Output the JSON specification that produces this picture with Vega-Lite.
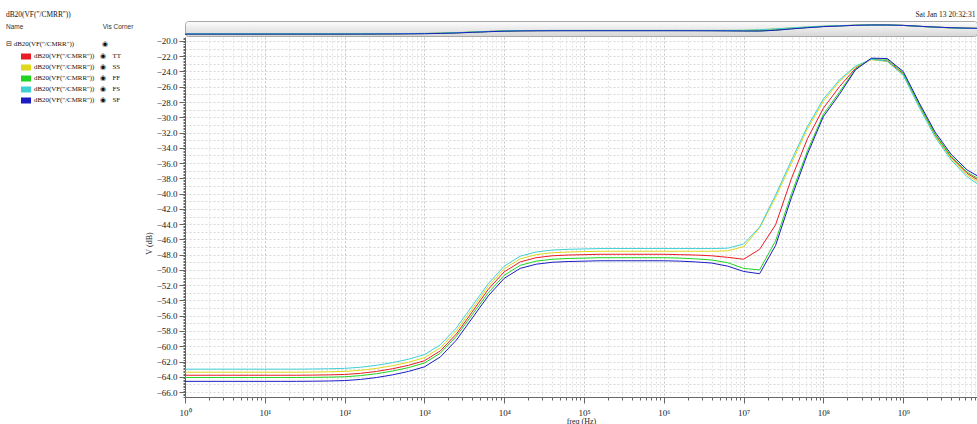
{
  "$schema": "https://vega.github.io/schema/vega-lite/v6.json",
  "background": "white",
  "padding": {"left": 5, "top": 10, "right": 0, "bottom": 0},
  "title": {"text": "Sat Jan 13 20:32:31", "anchor": "end", "frame": "bounds", "offset": -8, "dx": -2, "font": "Liberation Serif", "fontSize": 7.6, "fontWeight": "normal", "color": "#222"},
  "spacing": 1,
  "bounds": "flush",
  "resolve": {"scale": {"color": "independent"}, "legend": {"color": "independent"}},
  "datasets": {
    "cmrr": [
      {"f": 1, "TT": -63.8, "SS": -63.4, "FF": -64.1, "FS": -63.0, "SF": -64.6},
      {"f": 1.585, "TT": -63.8, "SS": -63.4, "FF": -64.1, "FS": -63.0, "SF": -64.6},
      {"f": 2.512, "TT": -63.8, "SS": -63.4, "FF": -64.1, "FS": -63.0, "SF": -64.6},
      {"f": 3.981, "TT": -63.8, "SS": -63.4, "FF": -64.1, "FS": -63.0, "SF": -64.6},
      {"f": 6.31, "TT": -63.8, "SS": -63.4, "FF": -64.1, "FS": -63.0, "SF": -64.6},
      {"f": 10, "TT": -63.8, "SS": -63.4, "FF": -64.1, "FS": -63.0, "SF": -64.6},
      {"f": 15.85, "TT": -63.8, "SS": -63.4, "FF": -64.1, "FS": -63.0, "SF": -64.6},
      {"f": 25.12, "TT": -63.8, "SS": -63.4, "FF": -64.1, "FS": -63.0, "SF": -64.6},
      {"f": 39.81, "TT": -63.78, "SS": -63.38, "FF": -64.08, "FS": -62.98, "SF": -64.58},
      {"f": 63.1, "TT": -63.75, "SS": -63.35, "FF": -64.05, "FS": -62.95, "SF": -64.55},
      {"f": 100, "TT": -63.7, "SS": -63.3, "FF": -64.0, "FS": -62.9, "SF": -64.5},
      {"f": 158.5, "TT": -63.55, "SS": -63.15, "FF": -63.85, "FS": -62.75, "SF": -64.35},
      {"f": 251.2, "TT": -63.3, "SS": -62.9, "FF": -63.6, "FS": -62.5, "SF": -64.1},
      {"f": 398.1, "TT": -62.95, "SS": -62.55, "FF": -63.25, "FS": -62.15, "SF": -63.75},
      {"f": 631, "TT": -62.5, "SS": -62.1, "FF": -62.8, "FS": -61.7, "SF": -63.3},
      {"f": 1000, "TT": -61.9, "SS": -61.5, "FF": -62.2, "FS": -61.1, "SF": -62.7},
      {"f": 1585, "TT": -60.6, "SS": -60.2, "FF": -60.9, "FS": -59.8, "SF": -61.4},
      {"f": 2512, "TT": -58.4, "SS": -58.0, "FF": -58.7, "FS": -57.6, "SF": -59.2},
      {"f": 3981, "TT": -55.48, "SS": -55.08, "FF": -55.85, "FS": -54.7, "SF": -56.3},
      {"f": 6310, "TT": -52.55, "SS": -52.15, "FF": -53.0, "FS": -51.8, "SF": -53.4},
      {"f": 10000, "TT": -50.25, "SS": -49.85, "FF": -50.7, "FS": -49.5, "SF": -51.1},
      {"f": 15850, "TT": -48.95, "SS": -48.55, "FF": -49.4, "FS": -48.2, "SF": -49.8},
      {"f": 25120, "TT": -48.4, "SS": -48.0, "FF": -48.85, "FS": -47.65, "SF": -49.25},
      {"f": 39810, "TT": -48.15, "SS": -47.75, "FF": -48.6, "FS": -47.4, "SF": -49.0},
      {"f": 63100, "TT": -48.05, "SS": -47.65, "FF": -48.5, "FS": -47.3, "SF": -48.9},
      {"f": 100000, "TT": -48.0, "SS": -47.6, "FF": -48.45, "FS": -47.25, "SF": -48.85},
      {"f": 158500, "TT": -47.95, "SS": -47.55, "FF": -48.4, "FS": -47.2, "SF": -48.8},
      {"f": 251200, "TT": -47.95, "SS": -47.55, "FF": -48.4, "FS": -47.2, "SF": -48.8},
      {"f": 398100, "TT": -47.95, "SS": -47.55, "FF": -48.4, "FS": -47.2, "SF": -48.8},
      {"f": 631000, "TT": -47.95, "SS": -47.55, "FF": -48.4, "FS": -47.2, "SF": -48.8},
      {"f": 1000000, "TT": -47.95, "SS": -47.55, "FF": -48.4, "FS": -47.2, "SF": -48.8},
      {"f": 1585000, "TT": -48.0, "SS": -47.55, "FF": -48.45, "FS": -47.2, "SF": -48.85},
      {"f": 2512000, "TT": -48.05, "SS": -47.55, "FF": -48.55, "FS": -47.2, "SF": -48.95},
      {"f": 3981000, "TT": -48.15, "SS": -47.55, "FF": -48.7, "FS": -47.2, "SF": -49.1},
      {"f": 6310000, "TT": -48.35, "SS": -47.5, "FF": -49.05, "FS": -47.15, "SF": -49.5},
      {"f": 10000000, "TT": -48.6, "SS": -46.95, "FF": -49.8, "FS": -46.6, "SF": -50.2},
      {"f": 15850000, "TT": -47.3, "SS": -44.5, "FF": -50.0, "FS": -44.4, "SF": -50.5},
      {"f": 25120000, "TT": -44.1, "SS": -40.5, "FF": -46.2, "FS": -40.2, "SF": -46.8},
      {"f": 39810000, "TT": -38.0, "SS": -36.0, "FF": -40.0, "FS": -35.6, "SF": -40.5},
      {"f": 63100000, "TT": -32.8, "SS": -31.5, "FF": -34.4, "FS": -31.2, "SF": -34.8},
      {"f": 100000000, "TT": -28.8, "SS": -27.9, "FF": -29.6, "FS": -27.6, "SF": -29.9},
      {"f": 158500000, "TT": -26.0, "SS": -25.3, "FF": -26.7, "FS": -25.1, "SF": -27.0},
      {"f": 251200000, "TT": -23.6, "SS": -23.4, "FF": -23.7, "FS": -23.3, "SF": -23.8},
      {"f": 398100000, "TT": -22.4, "SS": -22.45, "FF": -22.3, "FS": -22.4, "SF": -22.25},
      {"f": 631000000, "TT": -22.6, "SS": -22.7, "FF": -22.4, "FS": -22.65, "SF": -22.3},
      {"f": 1000000000, "TT": -24.3, "SS": -24.4, "FF": -24.2, "FS": -24.5, "SF": -24.0},
      {"f": 1585000000, "TT": -28.4, "SS": -28.55, "FF": -28.3, "FS": -28.7, "SF": -28.1},
      {"f": 2512000000, "TT": -32.3, "SS": -32.45, "FF": -32.2, "FS": -32.6, "SF": -31.95},
      {"f": 3981000000, "TT": -35.25, "SS": -35.4, "FF": -35.1, "FS": -35.6, "SF": -34.85},
      {"f": 6310000000, "TT": -37.35, "SS": -37.55, "FF": -37.2, "FS": -37.8, "SF": -36.9},
      {"f": 10000000000, "TT": -38.6, "SS": -38.9, "FF": -38.4, "FS": -39.2, "SF": -38.1}
    ]
  },
  "vconcat": [
    {
      "width": 792,
      "height": 15,
      "data": {"name": "cmrr"},
      "transform": [{"fold": ["TT", "SS", "FF", "FS", "SF"], "as": ["corner", "dB"]}],
      "title": {
        "text": "dB20(VF(\"/CMRR\"))",
        "subtitle": "Name\u00a0\u00a0\u00a0\u00a0\u00a0\u00a0\u00a0\u00a0\u00a0\u00a0\u00a0\u00a0\u00a0\u00a0\u00a0\u00a0\u00a0\u00a0\u00a0\u00a0\u00a0\u00a0\u00a0\u00a0\u00a0\u00a0\u00a0\u00a0\u00a0\u00a0\u00a0\u00a0\u00a0\u00a0\u00a0\u00a0\u00a0\u00a0\u00a0\u00a0\u00a0\u00a0\u00a0\u00a0Vis\u00a0Corner",
        "anchor": "start", "frame": "group", "dx": -179, "offset": -9,
        "font": "Liberation Serif", "fontSize": 7.4, "fontWeight": "normal", "color": "#111",
        "subtitleFont": "Liberation Sans", "subtitleFontSize": 6.5, "subtitleColor": "#333", "subtitlePadding": 5
      },
      "view": {
        "fill": {"gradient": "linear", "x1": 0, "y1": 0, "x2": 0, "y2": 1, "stops": [{"offset": 0, "color": "#fdfdfd"}, {"offset": 1, "color": "#d6d6d6"}]},
        "stroke": "#a8a8a8",
        "cornerRadius": 3
      },
      "mark": {"type": "line", "strokeWidth": 1, "clip": true},
      "encoding": {
        "x": {"field": "f", "type": "quantitative", "scale": {"type": "log", "domain": [1, 8400000000]}, "axis": null},
        "y": {"field": "dB", "type": "quantitative", "scale": {"domain": [-73.3, -3.8]}, "axis": null},
        "color": {"field": "corner", "type": "nominal", "scale": {"domain": ["TT", "SS", "FF", "FS", "SF"], "range": ["#ea1c24", "#e0d81a", "#22d422", "#3fd0d6", "#1c1cc4"]}, "legend": null}
      }
    },
    {
      "width": 792,
      "height": 360,
      "data": {"name": "cmrr"},
      "transform": [{"fold": ["TT", "SS", "FF", "FS", "SF"], "as": ["corner", "dB"]}],
      "view": {"stroke": null},
      "mark": {"type": "line", "strokeWidth": 1, "clip": true},
      "encoding": {
        "x": {
          "field": "f", "type": "quantitative",
          "scale": {"type": "log", "domain": [1, 8400000000]},
          "axis": {
            "title": "freq (Hz)",
            "tickCount": 50,
            "labelExpr": "abs(log(datum.value)/LN10 - round(log(datum.value)/LN10)) < 0.000001 ? '10' + ['\u2070','\u00b9','\u00b2','\u00b3','\u2074','\u2075','\u2076','\u2077','\u2078','\u2079'][round(log(datum.value)/LN10)] : ''",
            "labelFlush": false, "labelOverlap": false,
            "tickSize": {"condition": {"test": "abs(log(datum.value)/LN10 - round(log(datum.value)/LN10)) < 0.000001", "value": 6}, "value": 3},
            "gridColor": {"condition": {"test": "abs(log(datum.value)/LN10 - round(log(datum.value)/LN10)) < 0.000001", "value": "#c4c4c4"}, "value": "#e2e2e2"},
            "gridDash": [2, 2],
            "domainColor": "#666", "tickColor": "#666",
            "labelFont": "Liberation Serif", "labelFontSize": 9, "labelColor": "#222", "labelPadding": 5,
            "titleFont": "Liberation Serif", "titleFontSize": 8, "titleFontWeight": "normal", "titleColor": "#222", "titlePadding": 0
          }
        },
        "y": {
          "field": "dB", "type": "quantitative",
          "scale": {"domain": [-66.65, -19.48], "nice": false, "zero": false},
          "axis": {
            "title": "V (dB)",
            "titleY": 206,
            "tickCount": 240,
            "labelExpr": "datum.value % 2 == 0 ? format(datum.value, '.1f') : ''",
            "labelFlush": false, "labelOverlap": false,
            "tickSize": {"condition": {"test": "datum.value % 2 == 0", "value": 6}, "value": 2},
            "gridOpacity": {"condition": {"test": "datum.value % 1 == 0", "value": 1}, "value": 0},
            "gridColor": "#d8d8d8", "gridDash": [2, 2],
            "domainColor": "#666", "tickColor": "#666",
            "labelFont": "Liberation Serif", "labelFontSize": 9, "labelColor": "#222", "labelPadding": 2,
            "titleFont": "Liberation Serif", "titleFontSize": 8, "titleFontWeight": "normal", "titleColor": "#222", "titlePadding": 3
          }
        },
        "color": {
          "field": "corner", "type": "nominal",
          "scale": {"domain": ["TT", "SS", "FF", "FS", "SF"], "range": ["#ea1c24", "#e0d81a", "#22d422", "#3fd0d6", "#1c1cc4"]},
          "legend": {
            "orient": "none", "legendX": -179, "legendY": 4,
            "title": "\u229f dB20(VF(\"/CMRR\"))\u00a0\u00a0\u00a0\u00a0\u00a0\u00a0\u00a0\u00a0\u00a0\u00a0\u00a0\u00a0\u00a0\u00a0\u00a0\u00a0\u25c9",
            "titleFont": "Liberation Serif", "titleFontSize": 6.9, "titleFontWeight": "normal", "titleColor": "#111", "titlePadding": 3,
            "symbolType": "stroke", "symbolStrokeWidth": 6, "symbolSize": 100, "symbolOffset": 12,
            "clipHeight": 11,
            "labelExpr": "'dB20(VF(\"/CMRR\"))\u00a0\u00a0\u00a0\u25c9\u00a0\u00a0\u00a0\u00a0' + datum.label",
            "labelFont": "Liberation Serif", "labelFontSize": 6.9, "labelColor": "#111", "labelOffset": 0,
            "rowPadding": 0
          }
        }
      }
    }
  ]
}
